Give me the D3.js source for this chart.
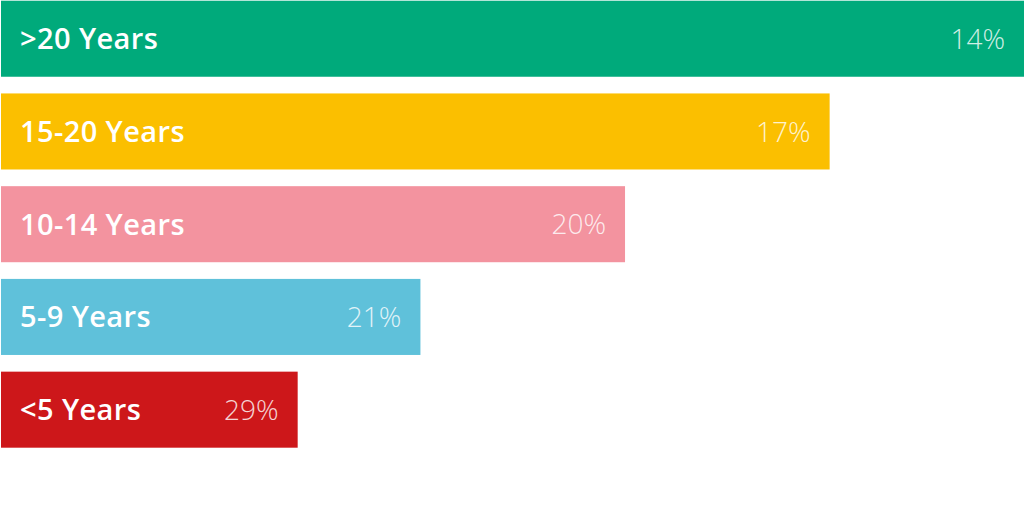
<!DOCTYPE html>
<html>
<head>
<meta charset="utf-8">
<script src="https://cdn.jsdelivr.net/npm/d3@7"></script>
<style>
html,body{margin:0;padding:0;background:#fff;}
svg{display:block;}
</style>
</head>
<body>
<svg id="chart" width="1024" height="512"></svg>
<script>
const categories = [">20 Years", "15-20 Years", "10-14 Years", "5-9 Years", "<5 Years"];
const shares = [14, 17, 20, 21, 29];
const barReach = [100, 81, 61, 41, 29];
const colors = ["#00aa7b", "#fbbf00", "#f3939f", "#5fc1da", "#cd171a"];

const W = 1024, H = 512;
const svg = d3.select("#chart");

const x = d3.scaleLinear().domain([0, 100]).range([1, 1024]);
const y = d3.scaleBand().domain(categories).range([0.7, 447.7]).paddingInner(0.18).paddingOuter(0.0);

const rows = categories.map((c, i) => ({cat: c, share: shares[i], reach: barReach[i], color: colors[i]}));

const g = svg.selectAll("g.row").data(rows).join("g").attr("class", "row");

g.append("rect")
  .attr("x", x(0))
  .attr("y", d => y(d.cat))
  .attr("width", d => x(d.reach) - x(0))
  .attr("height", y.bandwidth())
  .attr("fill", d => d.color);

g.append("text")
  .attr("x", x(0) + 19)
  .attr("y", d => y(d.cat) + y.bandwidth() / 2)
  .attr("dy", "0.36em")
  .attr("fill", "#fff")
  .style("font-family", "'Open Sans', sans-serif")
  .style("font-weight", 600)
  .style("font-size", "29px")
  .style("letter-spacing", "0.4px")
  .text(d => d.cat);

g.append("text")
  .attr("x", d => x(d.reach) - 19)
  .attr("y", d => y(d.cat) + y.bandwidth() / 2)
  .attr("dy", "0.36em")
  .attr("text-anchor", "end")
  .attr("fill", "rgba(255,255,255,0.82)")
  .style("font-family", "'Open Sans', sans-serif")
  .style("font-weight", 300)
  .style("font-size", "28px")
  .text(d => d.share + "%");
</script>
</body>
</html>
